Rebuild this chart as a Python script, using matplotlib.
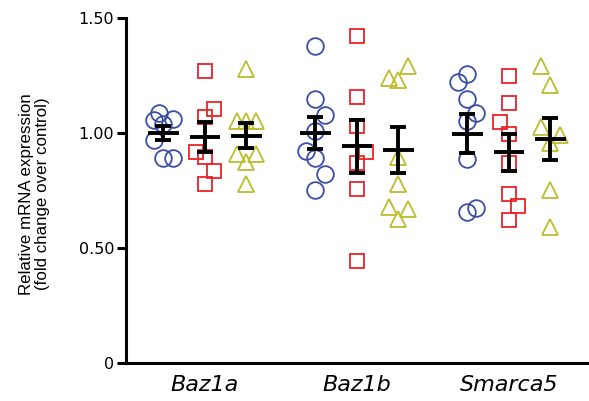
import numpy as np
import matplotlib.pyplot as plt

plt.rcParams['font.family'] = ['Liberation Sans', 'DejaVu Sans']

genes = ['Baz1a', 'Baz1b', 'Smarca5']

# values read per gene: circles (blue), squares (red), triangles (yellow)
circles = [
    [1.087, 1.057, 1.061, 1.04, 0.97, 0.89, 0.89],
    [1.38, 1.15, 1.08, 1.01, 0.92, 0.89, 0.82, 0.75],
    [1.257, 1.22, 1.15, 1.087, 1.05, 0.887, 0.674, 0.657],
]
squares = [
    [1.27, 1.104, 1.07, 0.917, 0.895, 0.835, 0.78],
    [1.42, 1.157, 1.03, 0.917, 0.87, 0.757, 0.443],
    [1.248, 1.13, 1.048, 0.996, 0.87, 0.735, 0.683, 0.622],
]
triangles = [
    [1.28, 1.05, 1.05, 1.05, 0.91, 0.875, 0.91, 0.78],
    [1.29, 1.24, 1.23, 0.895, 0.78, 0.68, 0.67, 0.626],
    [1.29, 1.21, 1.026, 0.99, 0.957, 0.752, 0.591],
]

# horizontal scatter offsets (in marker steps)
circles_jit = [
    [-0.5, -1, 1, 0, -1, 0, 1],
    [0, 0, 1, 0, -1, 0, 1, 0],
    [0, -1, 0, 1, 0, 0, 1, 0],
]
squares_jit = [
    [0, 1, 0, -1, 0, 1, 0],
    [0, 0, 0, 1, 0, 0, 0],
    [0, 0, -1, 0, 0, 0, 1, 0],
]
triangles_jit = [
    [0, -1, 0, 1, -1, 0, 1, 0],
    [1, -1, 0, 0, 0, -1, 1, 0],
    [-1, 0, -1, 1, 0, 0, 0],
]

series = [
    (circles, circles_jit, dict(marker='o', color='#3a4fa3', ms=12)),
    (squares, squares_jit, dict(marker='s', color='#ec2227', ms=9.5)),
    (triangles, triangles_jit, dict(marker='^', color='#bcbc2c', ms=11)),
]

fig = plt.figure(figsize=(5.89, 4.01), dpi=100)
ax = fig.add_axes([0.214, 0.0948, 0.786, 0.8603])

gap = 3.66
step = 0.22
for g in range(len(genes)):
    for s, (vals, jit, style) in enumerate(series):
        x0 = g * gap + (s - 1)
        v = np.array(vals[g])
        xs = x0 + step * np.array(jit[g])
        ax.plot(xs, v, linestyle='none', marker=style['marker'], ms=style['ms'],
                mfc='none', mec=style['color'], mew=1.3, zorder=2)
        m = v.mean()
        sem = v.std(ddof=1) / np.sqrt(len(v))
        ax.errorbar(x0, m, yerr=sem, fmt='none', ecolor='black', elinewidth=2.8,
                    capsize=5.5, capthick=2.8, zorder=3)
        ax.hlines(m, x0 - 0.37, x0 + 0.37, color='black', lw=2.8, zorder=3)

ax.set_xlim(-1.9, 9.25)
ax.set_ylim(0, 1.5)
ax.set_yticks([0, 0.5, 1.0, 1.5])
ax.set_yticklabels(['0', '0.50', '1.00', '1.50'], fontsize=11.5, family='DejaVu Sans')
ax.set_xticks([g * gap for g in range(len(genes))])
ax.set_xticklabels(genes, fontsize=16, style='italic', family='DejaVu Sans')
ax.tick_params(axis='x', length=0, pad=9)
ax.tick_params(axis='y', length=6.5, width=2.2, pad=2)
for side in ['top', 'right']:
    ax.spines[side].set_visible(False)
ax.spines['left'].set_linewidth(2.2)
ax.spines['bottom'].set_linewidth(2.2)
ax.set_ylabel('Relative mRNA expression\n(fold change over control)', fontsize=12.2,
              linespacing=1.05)
ax.yaxis.set_label_coords(-0.165, 0.49)

fig.savefig('out.png', dpi=100)
